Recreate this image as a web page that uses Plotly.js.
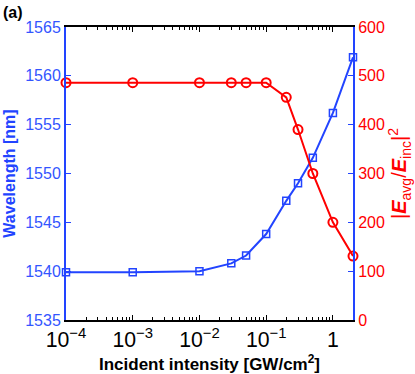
<!DOCTYPE html>
<html>
<head>
<meta charset="utf-8">
<script src="https://cdn.plot.ly/plotly-3.0.1.min.js"></script>
<style>
  html, body { margin: 0; padding: 0; background: #fff; }
  #chart { width: 415px; height: 374px; }
</style>
</head>
<body>
<div id="chart"></div>
<script>
const intensity = [1e-4, 1e-3, 1e-2, 3e-2, 5e-2, 0.1, 0.2, 0.3, 0.5, 1, 2];
const wavelength = [1539.9, 1539.9, 1540.0, 1540.8, 1541.6, 1543.8, 1547.2, 1549.0, 1551.6, 1556.2, 1561.9];
const enhancement = [486, 486, 486, 486, 486, 486, 456, 390, 300, 200, 131];
const leftTicks = [1535, 1540, 1545, 1550, 1555, 1560, 1565];
const rightTicks = [0, 100, 200, 300, 400, 500, 600];

const blue = '#2244ff';
const red = '#ff0000';
const font = 'Liberation Sans, Arial, sans-serif';

const blueTrace = {
  x: intensity, y: wavelength, type: 'scatter', mode: 'lines+markers',
  line: { color: blue, width: 2 },
  marker: { symbol: 'square-open', size: 7, color: blue, line: { width: 1.5, color: blue } },
  cliponaxis: false, yaxis: 'y'
};
const redTrace = {
  x: intensity, y: enhancement, type: 'scatter', mode: 'lines+markers',
  line: { color: red, width: 2 },
  marker: { symbol: 'circle-open', size: 9, color: red, line: { width: 2, color: red } },
  cliponaxis: false, yaxis: 'y2'
};

const layout = {
  width: 415, height: 374,
  margin: { l: 66, r: 62, t: 27, b: 54 },
  paper_bgcolor: '#fff', plot_bgcolor: '#fff',
  showlegend: false,
  font: { family: font, size: 16, color: '#000' },
  xaxis: {
    type: 'log', range: [-4, Math.log10(2)],
    dtick: 1, exponentformat: 'power', showexponent: 'all',
    ticks: 'inside', ticklen: 5, tickcolor: '#000',
    minor: { ticks: 'inside', ticklen: 3, tickcolor: '#000', showgrid: false },
    showline: true, linecolor: '#000', linewidth: 2, mirror: 'ticks',
    showgrid: false, zeroline: false,
    tickfont: { family: font, size: 17, color: '#000' },
    title: { text: '<b>Incident intensity [GW/cm<sup>2</sup>]</b>', font: { family: font, size: 17, color: '#000' }, standoff: 3 }
  },
  yaxis: {
    range: [1535, 1565], tickvals: leftTicks,
    ticks: 'inside', ticklen: 5, tickcolor: blue,
    showline: true, linecolor: blue, linewidth: 2,
    showgrid: false, zeroline: false,
    tickfont: { family: font, size: 16, color: '#3355ff' },
    title: { text: '<b>Wavelength [nm]</b>', font: { family: font, size: 16, color: blue }, standoff: 6 }
  },
  yaxis2: {
    overlaying: 'y', side: 'right',
    range: [0, 600], tickvals: rightTicks,
    ticks: 'inside', ticklen: 5, tickcolor: blue,
    showline: true, linecolor: blue, linewidth: 2,
    showgrid: false, zeroline: false,
    tickfont: { family: font, size: 16, color: red },
    title: { text: '|<b><i>E</i></b><sub>avg</sub>/<b><i>E</i></b><sub>inc</sub>|<sup>2</sup>', font: { family: font, size: 20, color: red }, standoff: 2 }
  },
  annotations: [{
    text: '<b>(a)</b>', xref: 'paper', yref: 'paper', x: -0.225, y: 1.05,
    xanchor: 'left', yanchor: 'middle', showarrow: false,
    font: { family: font, size: 16, color: '#000' }
  }]
};

Plotly.newPlot('chart', [blueTrace, redTrace], layout, { displayModeBar: false, staticPlot: true });
</script>
</body>
</html>
